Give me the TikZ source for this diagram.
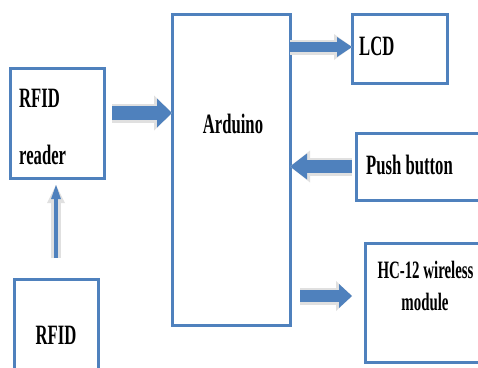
\documentclass[tikz,border=0pt]{standalone}
\usepackage{fontspec}
\setmainfont{Liberation Serif}
\usetikzlibrary{arrows.meta}
\definecolor{boxblue}{RGB}{79,129,189}
\definecolor{arrowblue}{RGB}{79,129,189}
\definecolor{shadowgray}{RGB}{224,224,224}
\newcommand\narrowtxt[1]{\scalebox{0.595}[1]{#1}}
\begin{document}
\begin{tikzpicture}[x=1pt,y=-1pt,
  box/.style={draw=boxblue,line width=3pt,outer sep=0pt,inner sep=0pt},
  lbl/.style={font=\fontsize{28}{32}\selectfont\bfseries,inner sep=0pt},
  slbl/.style={font=\fontsize{25}{29}\selectfont\bfseries,inner sep=0pt},
  barrow/.style n args={3}{draw=arrowblue,line width=#1,
     -{Triangle[length=#3,width=#2,line width=0pt]}},
  shad/.style n args={3}{draw=shadowgray,line width=#1,
     -{Triangle[length=#3,width=#2,line width=0pt]},shift={(1.5pt,-2pt)}}]
\fill[white] (0,0) rectangle (478,367);
\clip (0,0) rectangle (478,367);
% boxes
\node[box,minimum width=94pt,minimum height=110pt] (reader) at (57,123) {};
\node[box,minimum width=118pt,minimum height=311pt] (arduino) at (231,169.5) {};
\node[box,minimum width=95pt,minimum height=69pt] (lcd) at (399.5,48.5) {};
\node[box,minimum width=134pt,minimum height=67pt] (push) at (423,166.5) {};
\node[box,minimum width=125pt,minimum height=119pt] (hc) at (427.5,302.5) {};
\node[box,minimum width=84pt,minimum height=101pt] (rfid) at (56,329.5) {};
% labels
\node[lbl,anchor=west] (treader1) at (19,98) {\narrowtxt{RFID}};
\node[lbl,anchor=west] (treader2) at (19,155) {\narrowtxt{reader}};
\node[lbl] (tarduino) at (233,124) {\narrowtxt{Arduino}};
\node[lbl,anchor=west] (tlcd) at (359,46) {\narrowtxt{LCD}};
\node[lbl] (tpush) at (409.5,165) {\narrowtxt{Push button}};
\node[slbl] (thc1) at (425.5,270) {\narrowtxt{HC-12 wireless}};
\node[slbl] (thc2) at (425,301.5) {\narrowtxt{module}};
\node[lbl] (trfid) at (56,335.5) {\narrowtxt{RFID}};
% arrows: reader -> arduino
\draw[shad={19pt}{35pt}{18pt},shorten <=8pt] ([yshift=10pt]reader.east) -- ([yshift=10pt]reader.east -| arduino.west);
\draw[barrow={14pt}{29pt}{15pt},shorten <=8pt] ([yshift=10pt]reader.east) -- ([yshift=10pt]reader.east -| arduino.west);
% arduino -> lcd
\draw[shad={15pt}{26pt}{18pt}] ([yshift=1.5pt]lcd.west -| arduino.east) -- ([yshift=1.5pt]lcd.west);
\draw[barrow={10pt}{20pt}{15pt}] ([yshift=1.5pt]lcd.west -| arduino.east) -- ([yshift=1.5pt]lcd.west);
% push -> arduino
\draw[shad={18pt}{32pt}{20pt},shorten <=4pt] (push.west) -- (push.west -| arduino.east);
\draw[barrow={13pt}{26pt}{17pt},shorten <=4pt] (push.west) -- (push.west -| arduino.east);
% arduino -> hc12
\draw[shad={17pt}{30pt}{16pt},shorten <=10pt,shorten >=13pt] ([yshift=6.5pt]hc.west -| arduino.east) -- ([yshift=6.5pt]hc.west);
\draw[barrow={12pt}{24pt}{13pt},shorten <=10pt,shorten >=13pt] ([yshift=6.5pt]hc.west -| arduino.east) -- ([yshift=6.5pt]hc.west);
% rfid -> reader
\draw[shad={10pt}{18pt}{18pt},shorten <=21pt,shorten >=7pt] (rfid.north) -- (rfid.north |- reader.south);
\draw[barrow={4pt}{10pt}{14pt},shorten <=21pt,shorten >=7pt] (rfid.north) -- (rfid.north |- reader.south);
\end{tikzpicture}
\end{document}
